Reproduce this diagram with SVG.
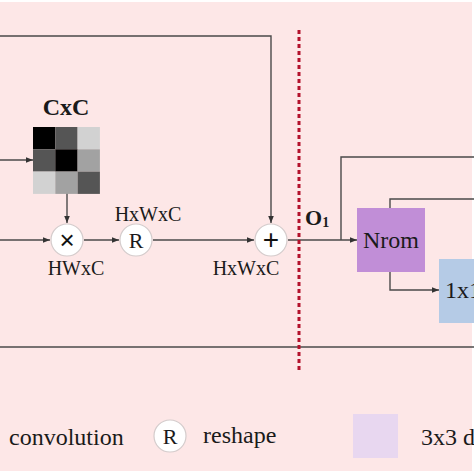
<svg xmlns="http://www.w3.org/2000/svg" width="474" height="474" viewBox="0 0 474 474">
<defs>
<marker id="ah" viewBox="0 0 10 10" refX="10" refY="5" markerWidth="7" markerHeight="7" markerUnits="userSpaceOnUse" orient="auto">
<path d="M0,1 L10,5 L0,9 Z" fill="#333"/>
</marker>
<style>
.ln{fill:none;stroke:#4a4a4a;stroke-width:1.4}
.t{font-family:"Liberation Serif","Times New Roman",serif;fill:#1a1a1a}
.op{fill:#fff;stroke:#d4cccc;stroke-width:1.2}
.s{font-family:"Liberation Sans",Arial,sans-serif;fill:#111}
</style>
</defs>
<rect x="0" y="0" width="474" height="474" fill="#fff"/>
<rect x="0" y="2" width="472" height="469" fill="#fde7e7"/>

<g id="connectors">
<path class="ln" d="M0,36 H271 V223" marker-end="url(#ah)"/>
<path class="ln" d="M0,160 H33" marker-end="url(#ah)"/>
<path class="ln" d="M67,193 V223" marker-end="url(#ah)"/>
<path class="ln" d="M0,240 H50" marker-end="url(#ah)"/>
<path class="ln" d="M84,240 H119" marker-end="url(#ah)"/>
<path class="ln" d="M153,240 H254" marker-end="url(#ah)"/>
<path class="ln" d="M288,240 H357" marker-end="url(#ah)"/>
<path class="ln" d="M341,240 V157 H474"/>
<path class="ln" d="M390,208 V199 H474"/>
<path class="ln" d="M390,272 V290 H439" marker-end="url(#ah)"/>
<path class="ln" d="M0,347 H474"/>
<path d="M299,30 V372" fill="none" stroke="#b3122c" stroke-width="3" stroke-dasharray="4,3"/>
</g>

<g id="matrix">
<text class="t" x="66" y="115" font-size="24" font-weight="bold" text-anchor="middle">CxC</text>
<rect x="33" y="127" width="22.3" height="22.3" fill="#000"/>
<rect x="55.3" y="127" width="22.3" height="22.3" fill="#555"/>
<rect x="77.6" y="127" width="22.3" height="22.3" fill="#d2d2d2"/>
<rect x="33" y="149.3" width="22.3" height="22.3" fill="#555"/>
<rect x="55.3" y="149.3" width="22.3" height="22.3" fill="#000"/>
<rect x="77.6" y="149.3" width="22.3" height="22.3" fill="#a2a2a2"/>
<rect x="33" y="171.6" width="22.3" height="22.3" fill="#d2d2d2"/>
<rect x="55.3" y="171.6" width="22.3" height="22.3" fill="#a2a2a2"/>
<rect x="77.6" y="171.6" width="22.3" height="22.3" fill="#555"/>
</g>

<g id="mul">
<circle class="op" cx="67" cy="240" r="16"/>
<text class="s" x="67" y="249" font-size="26" text-anchor="middle">×</text>
<text class="t" x="76" y="275" font-size="20" text-anchor="middle">HWxC</text>
</g>

<g id="reshape">
<circle class="op" cx="136" cy="240" r="16"/>
<text class="t" x="136" y="248" font-size="22" text-anchor="middle">R</text>
<text class="t" x="148" y="221" font-size="20" text-anchor="middle">HxWxC</text>
</g>

<g id="add">
<circle class="op" cx="271" cy="240" r="16"/>
<text class="s" x="271" y="249" font-size="28" text-anchor="middle">+</text>
<text class="t" x="246" y="275" font-size="20" text-anchor="middle">HxWxC</text>
</g>

<g id="o1">
<text class="t" x="305" y="225" font-size="22" font-weight="bold">O<tspan font-size="14" dy="2">1</tspan></text>
</g>

<g id="nrom">
<rect x="357" y="208" width="68" height="64" fill="#c18ed7"/>
<text class="t" x="391" y="248" font-size="24" text-anchor="middle">Nrom</text>
</g>

<g id="conv1x1">
<rect x="439" y="259" width="40" height="64" fill="#b5cbe6"/>
<text class="t" x="445" y="298" font-size="24">1x1</text>
</g>

<g id="legend">
<text class="t" x="9" y="445" font-size="24">convolution</text>
<circle class="op" cx="170" cy="436" r="16"/>
<text class="t" x="170" y="444" font-size="22" text-anchor="middle">R</text>
<text class="t" x="203" y="443" font-size="24">reshape</text>
<rect x="353" y="414" width="45" height="44" fill="#e8d7f0"/>
<text class="t" x="421" y="445" font-size="24">3x3 d</text>
</g>
</svg>
